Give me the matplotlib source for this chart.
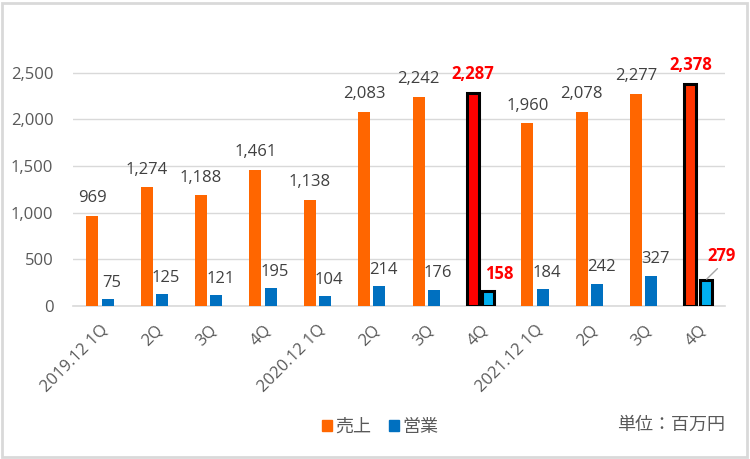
import numpy as np
import matplotlib.pyplot as plt
from matplotlib.patches import Patch, Rectangle

plt.rcParams['font.family'] = ['Open Sans', 'Noto Sans CJK JP', 'DejaVu Sans']

categories = ["2019.12 1Q", "2Q", "3Q", "4Q", "2020.12 1Q", "2Q", "3Q", "4Q",
              "2021.12 1Q", "2Q", "3Q", "4Q"]
sales = [969, 1274, 1188, 1461, 1138, 2083, 2242, 2287, 1960, 2078, 2277, 2378]
profit = [75, 125, 121, 195, 104, 214, 176, 158, 184, 242, 327, 279]
highlight = [7, 11]

orange = '#FF6600'
blue = '#0070C0'
sales_colors = [orange] * len(sales)
profit_colors = [blue] * len(profit)
sales_colors[7] = '#FF0000'
sales_colors[11] = '#FF3300'
profit_colors[7] = '#00B0F0'
profit_colors[11] = '#00B0F0'

fig = plt.figure(figsize=(7.5, 4.59), dpi=100)
ax = fig.add_axes([0.097, 0.333, 0.870, 0.61])

x = np.arange(len(categories))
w = 0.22
off = 0.14
edges = ['black' if i in highlight else 'none' for i in x]
lws = [2.2 if i in highlight else 0 for i in x]
ax.bar(x - off, sales, w, color=sales_colors, edgecolor=edges, linewidth=lws, zorder=3)
ax.bar(x + off, profit, w, color=profit_colors, edgecolor=edges, linewidth=lws, zorder=3)

txt = '#404040'
for i in x:
    hl = i in highlight
    kw = dict(color='#FF0000', fontweight='bold') if hl else dict(color=txt)
    ax.annotate(f"{sales[i]:,}", (i - off, sales[i]), xytext=(0, 7), textcoords='offset points',
                ha='center', va='bottom', fontsize=12, **kw)
    if i == 11:
        # label moved off the bar with a leader line
        ax.annotate(f"{profit[i]:,}", (i + off, profit[i]), xytext=(1, 11), textcoords='offset points',
                    ha='left', va='bottom', fontsize=12, **kw,
                    arrowprops=dict(arrowstyle='-', color='#A6A6A6', lw=1, relpos=(0.5, 0),
                                    shrinkA=1, shrinkB=1))
    else:
        dx = 8 if i == 7 else 3
        ax.annotate(f"{profit[i]:,}", (i + off, profit[i]), xytext=(dx, 6), textcoords='offset points',
                    ha='center', va='bottom', fontsize=12, **kw)

ax.set_xlim(-0.5, len(categories) - 0.5)
ax.set_ylim(0, 3000)
ax.set_yticks(np.arange(0, 2501, 500))
ax.set_yticklabels([f"{v:,}" for v in range(0, 2501, 500)])
ax.yaxis.grid(True, color='#D9D9D9', linewidth=1, zorder=0)
ax.set_xticks(x)
ax.set_xticklabels(categories, rotation=45, ha='right', rotation_mode='anchor')
ax.tick_params(axis='both', length=0, labelsize=12, labelcolor='#595959')
ax.tick_params(axis='x', pad=11)
ax.tick_params(axis='y', pad=14)
for s in ['top', 'right', 'left']:
    ax.spines[s].set_visible(False)
ax.spines['bottom'].set_color('#D9D9D9')
ax.spines['bottom'].set_linewidth(1.2)

handles = [Patch(color=orange, label='売上'), Patch(color=blue, label='営業')]
fig.legend(handles=handles, loc='center', bbox_to_anchor=(0.507, 0.07), ncol=2, frameon=False,
           fontsize=13, handlelength=0.55, handleheight=0.55, handletextpad=0.2, columnspacing=1.0,
           labelcolor='#595959')
fig.text(0.967, 0.075, '単位：百万円', ha='right', va='center', fontsize=13, color='#595959')

fig.add_artist(Rectangle((0.002, 0.004), 0.994, 0.99, transform=fig.transFigure, fill=False,
                         edgecolor='#D9D9D9', linewidth=2))

fig.savefig('out.png', dpi=100)
